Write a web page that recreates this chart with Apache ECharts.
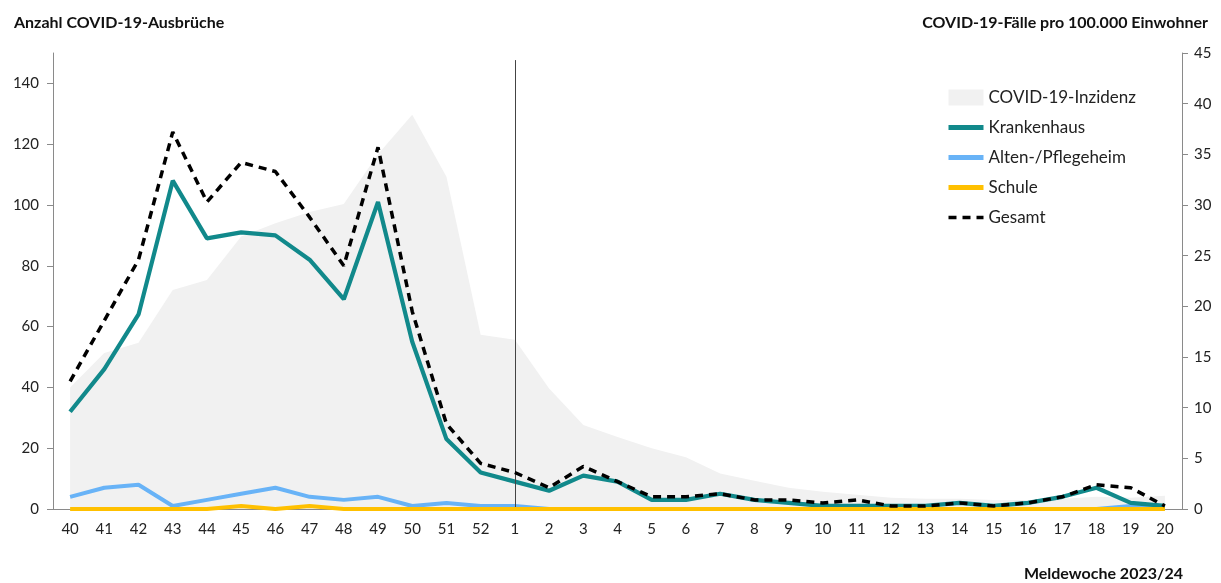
<!DOCTYPE html>
<html>
<head>
<meta charset="utf-8">
<script src="https://cdn.jsdelivr.net/npm/echarts@6/dist/echarts.min.js"></script>
<style>
html,body{margin:0;padding:0;background:#fff;}
#chart{width:1221px;height:583px;}
</style>
</head>
<body>
<div id="chart"></div>
<script>
const weeks = ['40','41','42','43','44','45','46','47','48','49','50','51','52','1','2','3','4','5','6','7','8','9','10','11','12','13','14','15','16','17','18','19','20'];
const inzidenz = [12,15.4,16.4,21.6,22.6,26.9,28.2,29.3,30.1,35,38.9,32.8,17.2,16.7,11.9,8.3,7.1,6.0,5.1,3.5,2.8,2.1,1.7,1.4,1.1,1.0,1.0,0.9,0.9,1.0,1.2,1.1,1.3];
const krankenhaus = [32,46,64,108,89,91,90,82,69,101,55,23,12,9,6,11,9,3,3,5,3,2,1,1,1,1,2,1,2,4,7,2,1];
const altenheim = [4,7,8,1,3,5,7,4,3,4,1,2,1,1,0,0,0,0,0,0,0,0,0,0,0,0,0,0,0,0,0,1,0];
const schule = [0,0,0,0,0,1,0,1,0,0,0,0,0,0,0,0,0,0,0,0,0,0,0,0,0,0,0,0,0,0,0,0,0];
const gesamt = [42,62,82,124,101,114,111,96,80,119,65,28,15,12,7,14,9,4,4,5,3,3,2,3,1,1,2,1,2,4,8,7,1];
const leftTicks = [0,20,40,60,80,100,120,140];
const rightTicks = [0,5,10,15,20,25,30,35,40,45];
const markerWeek = '1';
const markerTop = 44.3;

const FONT = 'Lato';
const chart = echarts.init(document.getElementById('chart'), null, {renderer:'canvas'});
const axisGray = '#8a8a8a';
const hideSym = {opacity:0};
chart.setOption({
  animation:false,
  backgroundColor:'#fff',
  title:[
    {text:'Anzahl COVID-19-Ausbrüche', left:9, top:10, textStyle:{fontFamily:FONT, fontSize:16, fontWeight:'bold', color:'#111'}},
    {text:'COVID-19-Fälle pro 100.000 Einwohner', right:8, top:10, textStyle:{fontFamily:FONT, fontSize:16, fontWeight:'bold', color:'#111'}},
    {text:'Meldewoche 2023/24', right:33, top:561, textStyle:{fontFamily:FONT, fontSize:16, fontWeight:'bold', color:'#111'}}
  ],
  legend:{
    data:[
      {name:'COVID-19-Inzidenz', icon:'rect', itemStyle:{color:'#f1f1f1', opacity:1}},
      {name:'Krankenhaus', itemStyle:hideSym, lineStyle:{width:5, color:'#11898b'}},
      {name:'Alten-/Pflegeheim', itemStyle:hideSym, lineStyle:{width:5, color:'#68b3f7'}},
      {name:'Schule', itemStyle:hideSym, lineStyle:{width:5, color:'#ffc000'}},
      {name:'Gesamt', itemStyle:hideSym, lineStyle:{width:3.5, color:'#000', type:[8,6]}}
    ],
    orient:'vertical', left:941, top:84, itemWidth:35, itemHeight:16, itemGap:13,
    textStyle:{fontFamily:FONT, fontSize:17, color:'#222'}
  },
  grid:{left:53, right:39, top:53, bottom:74},
  xAxis:{
    type:'category', data:weeks, boundaryGap:true,
    axisLine:{lineStyle:{color:axisGray, width:1}},
    axisTick:{interval:0, length:6, lineStyle:{color:axisGray}},
    axisLabel:{interval:0, margin:13, fontFamily:FONT, fontSize:15, color:'#222'}
  },
  yAxis:[
    {type:'value', min:0, max:150, interval:20, position:'left',
     splitLine:{show:false},
     axisLine:{show:true, lineStyle:{color:axisGray}},
     axisTick:{show:true, length:6, lineStyle:{color:axisGray}, customValues:leftTicks},
     axisLabel:{fontFamily:FONT, fontSize:15, color:'#222', margin:14, customValues:leftTicks}
    },
    {type:'value', min:0, max:45, interval:5, position:'right',
     splitLine:{show:false},
     axisLine:{show:true, lineStyle:{color:axisGray}},
     axisTick:{show:true, length:6, lineStyle:{color:axisGray}, customValues:rightTicks},
     axisLabel:{fontFamily:FONT, fontSize:15, color:'#222', margin:12, customValues:rightTicks}
    }
  ],
  series:[
    {name:'COVID-19-Inzidenz', type:'line', yAxisIndex:1, data:inzidenz, symbol:'none',
     itemStyle:{color:'#f1f1f1'}, lineStyle:{width:0, color:'#f1f1f1'}, areaStyle:{color:'#f1f1f1', opacity:1},
     z:1,
     markLine:{silent:true, symbol:'none', label:{show:false}, lineStyle:{color:'#444', width:1, type:'solid'},
       data:[[{xAxis:markerWeek, yAxis:0}, {xAxis:markerWeek, yAxis:markerTop}]]}
    },
    {name:'Alten-/Pflegeheim', type:'line', data:altenheim, symbol:'none',
     itemStyle:{color:'#68b3f7'}, lineStyle:{width:4, color:'#68b3f7'}, z:3},
    {name:'Krankenhaus', type:'line', data:krankenhaus, symbol:'none',
     itemStyle:{color:'#11898b'}, lineStyle:{width:4.2, color:'#11898b'}, z:4},
    {name:'Schule', type:'line', data:schule, symbol:'none',
     itemStyle:{color:'#ffc000'}, lineStyle:{width:4, color:'#ffc000'}, z:5},
    {name:'Gesamt', type:'line', data:gesamt, symbol:'none',
     itemStyle:{color:'#000'}, lineStyle:{width:3.5, color:'#000', type:[8,6]}, z:6}
  ]
});
</script>
</body>
</html>
